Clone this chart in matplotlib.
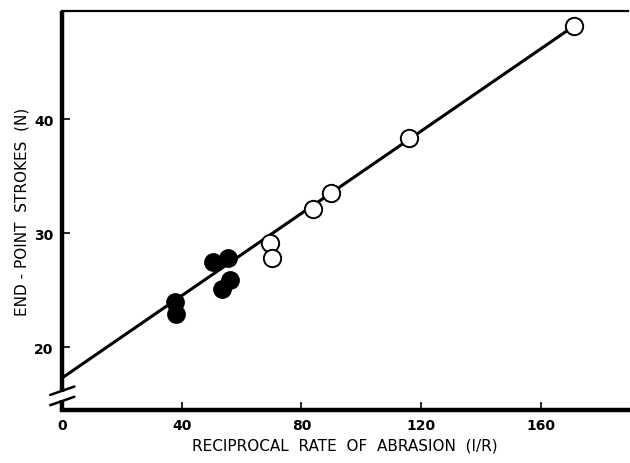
import matplotlib.pyplot as plt

# open circles
open_x = [171, 116, 90, 84, 69.6, 70]
open_y = [48.2, 38.4, 33.5, 32.1, 29.2, 27.8]
# filled circles
fill_x = [37.8, 38.1, 50.5, 55.5, 56, 53.5]
fill_y = [24.0, 22.9, 27.5, 27.8, 25.9, 25.1]
# fitted line
fit_x = [0, 171]
fit_y = [17.3, 48.2]

xticks = [0, 40, 80, 120, 160]
yticks = [20, 30, 40]

fig = plt.figure(figsize=(6.3, 4.64), dpi=100)
ax = fig.add_axes([0.098, 0.114, 0.899, 0.86])

ax.plot(fit_x, fit_y, color="black", lw=2.2, zorder=2)
ax.plot(fill_x, fill_y, "o", ms=12.5, color="black", mec="black", zorder=3)
ax.plot(open_x, open_y, "o", ms=12.5, mfc="white", mec="black", mew=1.4, zorder=3)

ax.set_xlim(0, 189)
ax.set_ylim(14.5, 49.5)
ax.set_xticks(xticks)
ax.set_yticks(yticks)
ax.tick_params(direction="in", length=6, width=1.2, labelsize=10, pad=6)
for t in ax.get_xticklabels() + ax.get_yticklabels():
    t.set_fontweight("bold")

ax.spines["right"].set_visible(False)
ax.spines["left"].set_visible(False)
ax.spines["top"].set_linewidth(1.6)
ax.spines["bottom"].set_linewidth(3.2)

# left spine with break
t = ax.get_yaxis_transform()
ax.plot([0, 0], [14.5, 15.4], transform=t, color="black", lw=3.2, clip_on=False, solid_capstyle="butt")
ax.plot([0, 0], [16.1, 49.5], transform=t, color="black", lw=3.2, clip_on=False, solid_capstyle="butt")
for yb in [15.3, 16.2]:
    ax.annotate("", xy=(0.027, yb + 0.45), xytext=(-0.025, yb - 0.45),
                xycoords=("axes fraction", "data"), textcoords=("axes fraction", "data"),
                arrowprops=dict(arrowstyle="-", lw=1.8, color="black"), annotation_clip=False)

ax.set_xlabel("RECIPROCAL  RATE  OF  ABRASION  (I/R)", fontsize=11, labelpad=4)
ax.set_ylabel("END - POINT  STROKES  (N)", fontsize=11, labelpad=3)

fig.savefig("out.png", dpi=100)
